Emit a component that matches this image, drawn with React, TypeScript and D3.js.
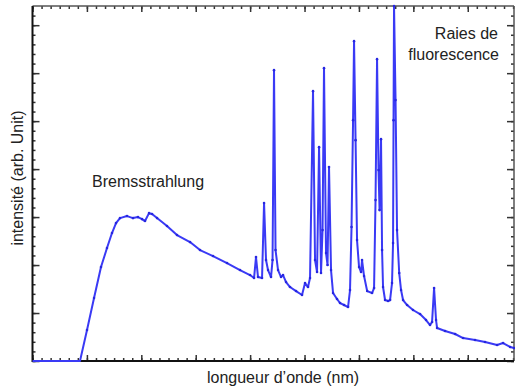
import React, { useEffect, useRef } from 'react';
import * as d3 from 'd3';

// spectrum: [wavelength, intensity], both in tick units
const spectrum = [
  [0, 0], [0.873, 0], [1.002, 0.646], [1.131, 1.313], [1.259, 1.958], [1.369, 2.354],
  [1.461, 2.667], [1.535, 2.875], [1.608, 2.979], [1.737, 3.021], [1.847, 2.979],
  [1.939, 3.0], [2.013, 2.958], [2.068, 2.917], [2.142, 3.083], [2.197, 3.063],
  [2.289, 2.979], [2.472, 2.813], [2.656, 2.625], [2.895, 2.479], [3.079, 2.313],
  [3.318, 2.188], [3.575, 2.042], [3.814, 1.896], [3.998, 1.792], [4.072, 1.729],
  [4.108, 2.167], [4.145, 1.75], [4.219, 1.729], [4.256, 3.292], [4.292, 2.104],
  [4.329, 1.896], [4.384, 1.75], [4.412, 2.104], [4.439, 6.063], [4.467, 2.313],
  [4.513, 1.896], [4.568, 1.75], [4.605, 1.792], [4.660, 1.646], [4.733, 1.542],
  [4.844, 1.458], [4.954, 1.375], [5.009, 1.625], [5.064, 1.542], [5.101, 1.729],
  [5.156, 5.625], [5.193, 2.104], [5.230, 1.854], [5.267, 4.458], [5.303, 1.833],
  [5.331, 2.729], [5.358, 6.104], [5.395, 2.25], [5.423, 2.0], [5.450, 4.042],
  [5.487, 1.896], [5.524, 1.417], [5.597, 1.292], [5.653, 1.208], [5.726, 1.167],
  [5.800, 1.125], [5.836, 1.479], [5.864, 2.792], [5.892, 5.021], [5.910, 6.667],
  [5.938, 4.604], [5.965, 2.521], [6.002, 1.958], [6.039, 1.854], [6.057, 2.104],
  [6.094, 1.771], [6.151, 1.458], [6.241, 1.417], [6.278, 1.521], [6.305, 3.354],
  [6.333, 6.292], [6.360, 3.979], [6.379, 3.146], [6.406, 4.625], [6.425, 2.313],
  [6.443, 1.542], [6.480, 1.271], [6.535, 1.250], [6.572, 1.271], [6.608, 1.625],
  [6.627, 2.458], [6.636, 5.021], [6.645, 7.4], [6.673, 5.438], [6.700, 2.729],
  [6.740, 1.833], [6.774, 1.479], [6.811, 1.271], [6.885, 1.167], [6.994, 1.063],
  [7.123, 0.979], [7.233, 0.854], [7.307, 0.75], [7.344, 0.813], [7.381, 1.521],
  [7.417, 0.854], [7.436, 0.688], [7.583, 0.625], [7.767, 0.563], [7.914, 0.479],
  [8.134, 0.438], [8.318, 0.396], [8.539, 0.333], [8.649, 0.375], [8.778, 0.292],
  [8.851, 0.271],
];

const W = 515;
const H = 387;

const App = () => {
  const svgRef = useRef(null);

  useEffect(() => {
    const svg = d3.select(svgRef.current);
    svg.selectAll('*').remove();

    const left = 32.5, right = 514, top = 6, bottom = 361;
    const x = d3.scaleLinear().domain([0, 8.85]).range([left, right]);
    const y = d3.scaleLinear().domain([0, 7.4]).range([bottom, top]);

    const g = svg.append('g');

    // minor ticks
    const minorX = d3.range(0, 8.85, 1 / 6);
    const minorY = d3.range(0, 7.4, 0.2);
    g.append('g').attr('transform', `translate(0,${bottom})`)
      .call(d3.axisBottom(x).tickValues(minorX).tickSize(-3).tickFormat(() => ''));
    g.append('g').attr('transform', `translate(0,${top})`)
      .call(d3.axisTop(x).tickValues(minorX).tickSize(-3).tickFormat(() => ''));
    g.append('g').attr('transform', `translate(${left},0)`)
      .call(d3.axisLeft(y).tickValues(minorY).tickSize(-3).tickFormat(() => ''));
    g.append('g').attr('transform', `translate(${right},0)`)
      .call(d3.axisRight(y).tickValues(minorY).tickSize(-3).tickFormat(() => ''));
    // major ticks
    const majorX = d3.range(0, 9, 1);
    const majorY = d3.range(0, 8, 1);
    g.append('g').attr('transform', `translate(0,${bottom})`)
      .call(d3.axisBottom(x).tickValues(majorX).tickSize(-6).tickFormat(() => ''));
    g.append('g').attr('transform', `translate(0,${top})`)
      .call(d3.axisTop(x).tickValues(majorX).tickSize(-6).tickFormat(() => ''));
    g.append('g').attr('transform', `translate(${left},0)`)
      .call(d3.axisLeft(y).tickValues(majorY).tickSize(-7).tickFormat(() => ''));
    g.append('g').attr('transform', `translate(${right},0)`)
      .call(d3.axisRight(y).tickValues(majorY).tickSize(-7).tickFormat(() => ''));
    g.selectAll('.domain').remove();
    g.selectAll('.tick line').attr('stroke', '#333').attr('stroke-width', 1.5);

    // frame
    g.append('line').attr('x1', left).attr('x2', right).attr('y1', top).attr('y2', top)
      .attr('stroke', '#555').attr('stroke-width', 1.5);
    g.append('line').attr('x1', right).attr('x2', right).attr('y1', top).attr('y2', bottom)
      .attr('stroke', '#555').attr('stroke-width', 1.5);
    g.append('line').attr('x1', left).attr('x2', left).attr('y1', top).attr('y2', bottom + 1)
      .attr('stroke', '#111').attr('stroke-width', 2);
    g.append('line').attr('x1', left).attr('x2', right).attr('y1', bottom).attr('y2', bottom)
      .attr('stroke', '#111').attr('stroke-width', 2);

    const line = d3.line().x(d => x(d[0])).y(d => y(d[1]));
    g.append('path').datum(spectrum)
      .attr('d', line)
      .attr('fill', 'none')
      .attr('stroke', '#3a3af5')
      .attr('stroke-width', 2)
      .attr('stroke-linejoin', 'round');
    g.selectAll('.dot').data(spectrum.slice(2)).enter()
      .append('circle')
      .attr('cx', d => x(d[0]))
      .attr('cy', d => y(d[1]))
      .attr('r', 1.3)
      .attr('fill', '#2727e0');

    const font = '"Liberation Sans", Arial, sans-serif';
    svg.append('text').attr('x', 92).attr('y', 187).attr('font-family', font)
      .attr('font-size', 16).attr('fill', '#222').text('Bremsstrahlung');
    svg.append('text').attr('x', 498).attr('y', 39).attr('text-anchor', 'end')
      .attr('font-family', font).attr('font-size', 16).attr('fill', '#222').text('Raies de');
    svg.append('text').attr('x', 499).attr('y', 60).attr('text-anchor', 'end')
      .attr('font-family', font).attr('font-size', 16).attr('fill', '#222').text('fluorescence');
    svg.append('text').attr('x', 283).attr('y', 383).attr('text-anchor', 'middle')
      .attr('font-family', font).attr('font-size', 16).attr('fill', '#222').text('longueur d’onde (nm)');
    svg.append('text').attr('transform', 'translate(23,178) rotate(-90)').attr('text-anchor', 'middle')
      .attr('font-family', font).attr('font-size', 16).attr('fill', '#222').text('intensité (arb. Unit)');
  }, []);

  return (
    <svg ref={svgRef} width={W} height={H}
      style={{ position: 'absolute', left: 0, top: 0, background: '#fff' }}></svg>
  );
};

export default App;
